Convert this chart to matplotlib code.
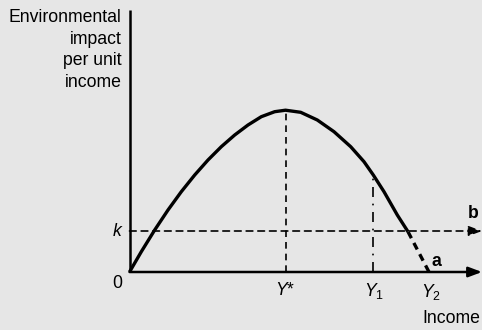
import matplotlib.pyplot as plt

# curve (income, impact)
curve_x = [0, 11.8, 25.2, 38.5, 51.8, 65.2, 78.5, 91.8, 105.2, 118.5, 131.8, 145.2, 156,
           171.2, 187.8, 204.5, 221.2, 234.5, 243.8, 254.5, 267.8, 278.5]
curve_y = [0, 20.3, 42, 62, 80.3, 97, 112, 125.3, 137, 147, 155.3, 160.3, 161.8,
           159.7, 152, 140.3, 125.3, 110.3, 97, 80.3, 57, 40.3]
tail_x = [278.5, 299.5]
tail_y = [40.3, 0]

k_level = 41
y_star = 156
y1, y1_top = 243.8, 97
y2 = 299.5
x_end = 352.5

bg = '#e6e6e6'
plt.rcParams['font.family'] = ['Liberation Sans', 'DejaVu Sans']
plt.rcParams['mathtext.fontset'] = 'custom'
plt.rcParams['mathtext.it'] = 'Liberation Sans:italic'
plt.rcParams['mathtext.rm'] = 'Liberation Sans'

fig = plt.figure(figsize=(4.82, 3.30), dpi=100, facecolor=bg)
ax = fig.add_axes([129.5/482, 58/330, 352.5/482, 262/330])
ax.set_facecolor(bg)
ax.set_xlim(0, x_end)
ax.set_ylim(0, 262)
ax.axis('off')

arrow = '-|>,head_length=0.8,head_width=0.3'

# axes
ax.plot([0, 0], [0, 262], color='black', lw=1.8, clip_on=False, solid_capstyle='butt')
ax.annotate('', xy=(x_end, 0), xytext=(0, 0),
            arrowprops=dict(arrowstyle=arrow, color='black', lw=1.8,
                            shrinkA=0, shrinkB=0), annotation_clip=False)

# k line
ax.annotate('', xy=(x_end, k_level), xytext=(0, k_level),
            arrowprops=dict(arrowstyle=arrow, color='black', lw=1.2,
                            linestyle=(0, (4, 3)), shrinkA=0, shrinkB=0), annotation_clip=False)

# curve
ax.plot(curve_x, curve_y, color='black', lw=2.4, solid_capstyle='butt', solid_joinstyle='round',
        clip_on=False)
ax.plot(tail_x, tail_y, color='black', lw=2.4, ls=(0, (2.2, 1.6)))

ax.plot([y_star, y_star], [0, max(curve_y)], color='black', lw=1.2, ls=(0, (4, 3)))
ax.plot([y1, y1], [0, y1_top], color='black', lw=1.2, ls=(0, (6, 4, 1, 4)))

fs = 12.7
ax.text(-8, 263, 'Environmental\nimpact\nper unit\nincome', ha='right', va='top',
        fontsize=fs, linespacing=1.36)
ax.text(-7, -3, '0', ha='right', va='top', fontsize=fs)
ax.text(-6, k_level, '$k$', ha='right', va='center', fontsize=fs)
ax.text(y_star, -10, '$Y$*', ha='center', va='top', fontsize=fs)
ax.text(y1 + 1, -9, '$Y_1$', ha='center', va='top', fontsize=fs)
ax.text(y2 + 2, -10, '$Y_2$', ha='center', va='top', fontsize=fs)
ax.text(x_end - 2, -38, 'Income', ha='right', va='top', fontsize=fs)
ax.text(302, 2, 'a', ha='left', va='bottom', fontsize=fs, fontweight='bold')
ax.text(x_end - 3, k_level + 9, 'b', ha='right', va='bottom', fontsize=fs, fontweight='bold')

fig.savefig('out.png', dpi=100, facecolor=bg)
